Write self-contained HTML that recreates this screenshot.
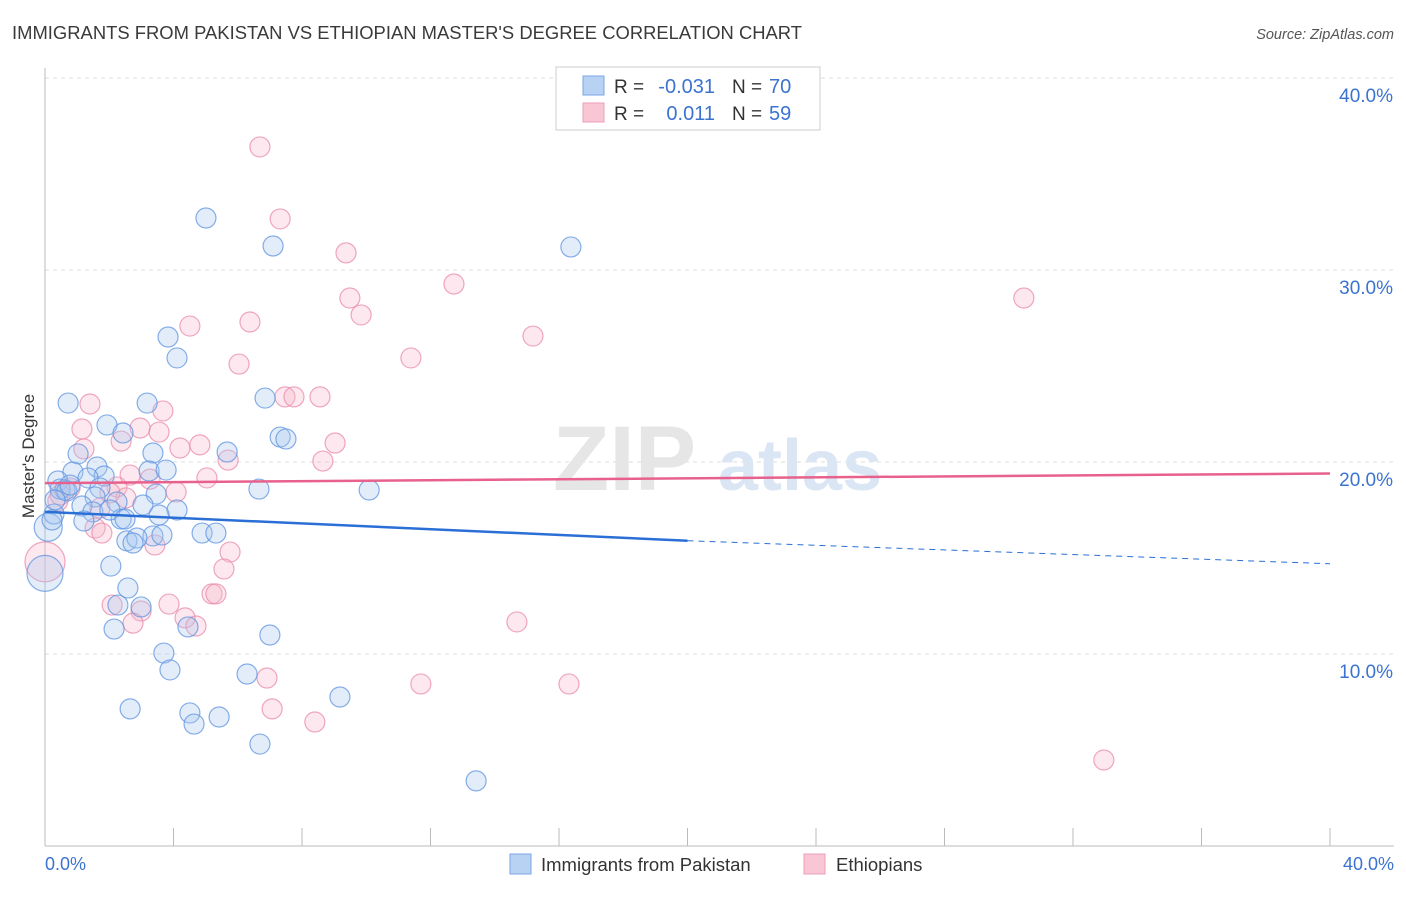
<!DOCTYPE html>
<html><head><meta charset="utf-8"><style>
body{margin:0;background:#fff;font-family:"Liberation Sans",sans-serif;}
svg text{font-family:"Liberation Sans",sans-serif;}
</style></head><body>
<svg id="chart" width="1406" height="892" viewBox="0 0 1406 892" xmlns="http://www.w3.org/2000/svg">
<text x="12" y="39" font-size="18.4" fill="#3a3a3a" textLength="790">IMMIGRANTS FROM PAKISTAN VS ETHIOPIAN MASTER'S DEGREE CORRELATION CHART</text>
<text x="1394" y="39" font-size="14.5" font-style="italic" fill="#555" text-anchor="end">Source: ZipAtlas.com</text>
<g id="grid"></g>
<g>
<text x="553" y="490" font-size="92" font-family="Liberation Serif" fill="#e6e6e6" font-weight="bold">ZIP</text>
<text x="718" y="490" font-size="72" fill="#dbe6f4" font-weight="bold">atlas</text>
</g>
<line x1="45" y1="68" x2="45" y2="846" stroke="#bbb"/>
<line x1="45" y1="846" x2="1394" y2="846" stroke="#bbb"/>
<g id="ticks"></g>
<g id="pts"></g>
<g id="trends"></g>
<text transform="translate(34,456) rotate(-90)" font-size="17" fill="#333" text-anchor="middle">Master's Degree</text>
<text x="45" y="870" font-size="18" fill="#3b73d1">0.0%</text>
<text x="1394" y="870" font-size="18" fill="#3b73d1" text-anchor="end">40.0%</text>
<g>
<rect x="556" y="67" width="264" height="63" fill="#fff" stroke="#ccc"/>
<rect x="583" y="76" width="21" height="19" fill="#b8d2f4" stroke="#7aa6e6"/>
<rect x="583" y="103" width="21" height="19" fill="#f9c6d6" stroke="#ef9db7"/>
<text x="614" y="93" font-size="19" fill="#333">R =</text>
<text x="715" y="93" font-size="20" fill="#3b73d1" text-anchor="end">-0.031</text>
<text x="732" y="93" font-size="19" fill="#333">N =</text>
<text x="769" y="93" font-size="20" fill="#3b73d1">70</text>
<text x="614" y="120" font-size="19" fill="#333">R =</text>
<text x="715" y="120" font-size="20" fill="#3b73d1" text-anchor="end">0.011</text>
<text x="732" y="120" font-size="19" fill="#333">N =</text>
<text x="769" y="120" font-size="20" fill="#3b73d1">59</text>
</g>
<g>
<rect x="510" y="854" width="21" height="20" fill="#b8d2f4" stroke="#7aa6e6"/>
<text x="541" y="871" font-size="18.5" fill="#333">Immigrants from Pakistan</text>
<rect x="804" y="854" width="21" height="20" fill="#f9c6d6" stroke="#ef9db7"/>
<text x="836" y="871" font-size="18.5" fill="#333">Ethiopians</text>
</g>
</svg>
<script>
const yTicks=[10,20,30,40];
const yTickLabels=["10.0%","20.0%","30.0%","40.0%"];
const xTicks=[0,4,8,12,16,20,24,28,32,36,40];
const bluePx=[[206,218],[273,246],[571,247],[168,337],[177,358],[68,403],[147,403],[265,398],[107,425],[123,433],[280,437],[286,439],[153,453],[227,452],[78,454],[97,467],[73,472],[149,471],[104,476],[58,481],[88,478],[65,490],[100,488],[259,489],[369,490],[156,494],[95,497],[117,502],[82,506],[93,512],[143,505],[177,510],[54,514],[121,519],[159,515],[84,521],[127,541],[153,536],[137,538],[133,543],[162,535],[202,533],[216,533],[111,566],[128,588],[118,605],[141,607],[114,629],[270,635],[164,653],[170,670],[247,674],[340,697],[130,709],[190,713],[194,724],[219,717],[260,744],[476,781],[60,489],[67,491],[110,510],[166,470],[188,627],[125,519],[55,500],[70,485],[52,520]];
const pinkPx=[[260,147],[280,219],[346,253],[454,284],[350,298],[361,315],[190,326],[250,322],[533,336],[239,364],[411,358],[1024,298],[90,404],[285,397],[294,397],[320,397],[163,411],[82,429],[140,428],[159,432],[121,441],[84,449],[180,448],[200,445],[335,443],[228,460],[323,461],[207,478],[117,487],[150,479],[176,492],[126,498],[58,501],[100,508],[95,528],[102,533],[155,545],[230,552],[224,569],[212,594],[216,594],[112,605],[169,604],[185,618],[141,611],[133,623],[196,626],[267,678],[272,709],[315,722],[421,684],[569,684],[517,622],[1104,760],[60,495],[70,488],[110,493],[130,475]];
const blueX=bluePx.map(p=>+((p[0]-45)/32.125).toFixed(2));
const blueY=bluePx.map(p=>+((846-p[1])/19.2).toFixed(2));
const pinkX=pinkPx.map(p=>+((p[0]-45)/32.125).toFixed(2));
const pinkY=pinkPx.map(p=>+((846-p[1])/19.2).toFixed(2));
const bigBlue=[[0,14.2,18],[0.1,16.6,14]];
const bigPink=[[0,14.8,20]];
const blueTrend=[[0,17.4],[20,15.9],[40,14.7]];
const pinkTrend=[[0,18.9],[40,19.4]];
const sx=v=>45+v*32.125, sy=v=>846-v*19.2;
const NS="http://www.w3.org/2000/svg";
function mk(t,a,parent){const e=document.createElementNS(NS,t);for(const k in a)e.setAttribute(k,a[k]);document.getElementById(parent).appendChild(e);return e;}
yTicks.forEach((v,i)=>{
 const l=mk('line',{x1:45,x2:1394,y1:sy(v),y2:sy(v),stroke:'#ddd','stroke-dasharray':'4,4'},'grid');
 
 
 const t=mk('text',{x:1393,y:sy(v)+24,'font-size':19,fill:'#3b73d1','text-anchor':'end'},'ticks');
 t.textContent=yTickLabels[i];
 
 
});
xTicks.forEach(v=>{
 const l=mk('line',{x1:sx(v),x2:sx(v),y1:828,y2:846,stroke:'#bbb'},'ticks');
 
 
});
function dot(x,y,r,c,s,name){
 const e=mk('circle',{cx:sx(x),cy:sy(y),r:r,fill:c,'fill-opacity':0.32,stroke:s,'stroke-opacity':0.75,'stroke-width':1.2},'pts');
 
 
}
bigPink.forEach(p=>dot(p[0],p[1],p[2],'#f7b6ca','#ea8aa9','ethiopians-point'));
bigBlue.forEach(p=>dot(p[0],p[1],p[2],'#a9c8f1','#5d93e0','pakistan-point'));
pinkX.forEach((x,i)=>dot(x,pinkY[i],10,'#f7b6ca','#ea8aa9','ethiopians-point'));
blueX.forEach((x,i)=>dot(x,blueY[i],10,'#a9c8f1','#5d93e0','pakistan-point'));
let bl=mk('line',{x1:sx(blueTrend[0][0]),y1:sy(blueTrend[0][1]),x2:sx(blueTrend[1][0]),y2:sy(blueTrend[1][1]),stroke:'#2a6fd6','stroke-width':2.5},'trends');


let bd=mk('line',{x1:sx(blueTrend[1][0]),y1:sy(blueTrend[1][1]),x2:sx(blueTrend[2][0]),y2:sy(blueTrend[2][1]),stroke:'#2a6fd6','stroke-width':1,'stroke-dasharray':'6,5'},'trends');


let pl=mk('line',{x1:sx(pinkTrend[0][0]),y1:sy(pinkTrend[0][1]),x2:sx(pinkTrend[1][0]),y2:sy(pinkTrend[1][1]),stroke:'#e8618c','stroke-width':2.5},'trends');


</script>
</body></html>
